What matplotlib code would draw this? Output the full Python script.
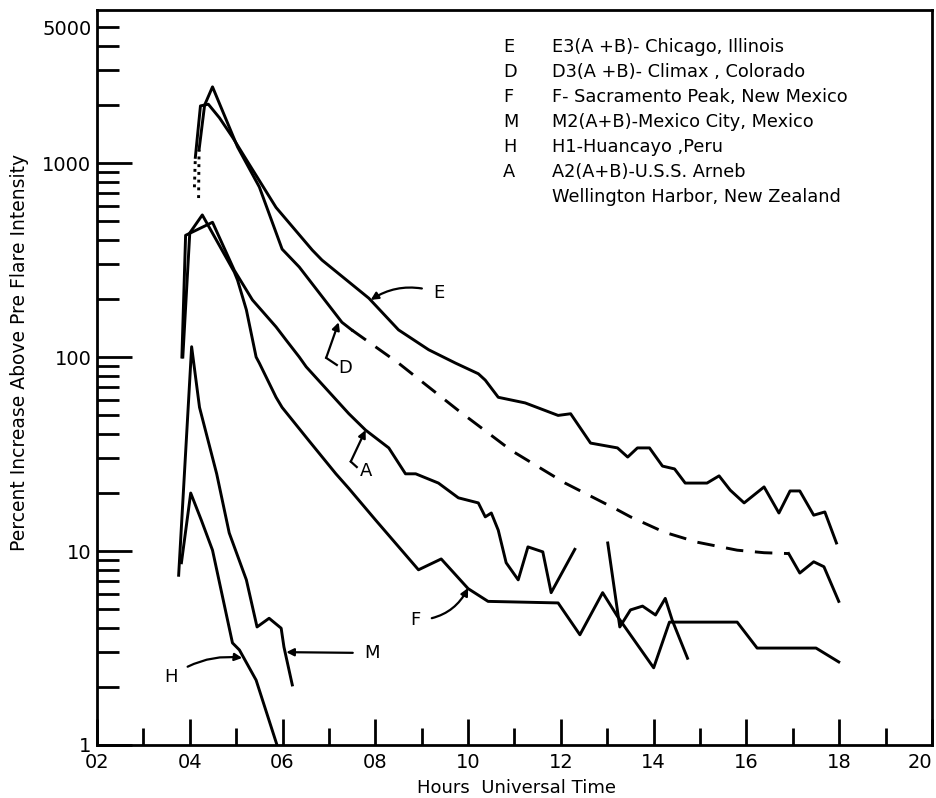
import numpy as np
import matplotlib
matplotlib.use("Agg")
import matplotlib.pyplot as plt
from matplotlib.ticker import FixedLocator, NullFormatter

# Hours UT and percent increase for each station
E_h = [4.10, 4.12, 4.23, 4.40, 4.64, 4.92, 5.22, 5.86, 6.64, 6.85, 7.86, 8.50, 9.15, 9.73,
       10.22, 10.37, 10.65, 11.23, 11.94, 12.21, 12.64, 13.22, 13.44, 13.65, 13.91, 14.19,
       14.45, 14.68, 15.15, 15.41, 15.65, 15.95, 16.38, 16.70, 16.94, 17.15, 17.45, 17.69, 17.94]
E_v = [750, 1070, 1970, 2010, 1710, 1360, 1040, 590, 356, 316, 201, 138, 109, 93,
       82, 76, 62, 58, 50, 51, 36, 34, 30.5, 34, 34, 27.4,
       26.5, 22.4, 22.4, 24.4, 20.6, 17.7, 21.4, 15.7, 20.4, 20.4, 15.3, 15.9, 11]

D_h = [4.19, 4.20, 4.32, 4.49, 5.03, 5.50, 5.99, 6.36, 7.28, 7.49, 8.50, 9.79, 10.93, 12.09,
       13.22, 13.50, 14.23, 14.94, 15.80, 16.38, 16.91, 17.15, 17.45, 17.67, 17.99]
D_v = [660, 1170, 1990, 2470, 1210, 752, 360, 291, 151, 138, 93, 53, 33, 22.4,
       16.3, 15.0, 12.5, 11.1, 10.1, 9.8, 9.7, 7.7, 8.8, 8.3, 5.5]
D_dash = (9, 20)  # estimated stretch, drawn dashed

F_h = [3.85, 4.00, 4.27, 4.96, 5.03, 5.22, 5.43, 5.50, 5.86, 5.99, 6.57, 7.15, 7.43, 8.01,
       8.93, 9.42, 10.00, 10.43, 11.94, 12.41, 12.90, 13.22, 14.00, 14.34, 15.80, 16.23,
       17.10, 17.50, 17.99]
F_v = [100, 436, 540, 274, 249, 175, 100, 93, 62, 55, 37, 25, 21, 14.4,
       8.0, 9.1, 6.4, 5.5, 5.4, 3.7, 6.1, 4.6, 2.5, 4.3, 4.3, 3.16,
       3.16, 3.16, 2.68]

A_h = [3.83, 3.91, 4.49, 4.96, 5.35, 5.86, 6.08, 6.36, 6.51, 7.43, 7.79, 8.29, 8.65, 8.87,
       9.36, 9.79, 10.22, 10.37, 10.50, 10.65, 10.82, 11.08, 11.29, 11.61, 11.79, 12.30,
       np.nan, 13.01, 13.27, 13.50, 13.76, 14.04, 14.25, 14.40, 14.73]
A_v = [100, 424, 495, 280, 197, 143, 122, 100, 89, 51, 42, 34, 25, 25,
       22.4, 18.8, 17.7, 15, 15.7, 12.8, 8.7, 7.1, 10.5, 9.9, 6.1, 10.2,
       np.nan, 11, 4.06, 4.97, 5.2, 4.68, 5.7, 4.4, 2.8]

M_h = [3.76, 4.04, 4.21, 4.58, 4.85, 5.22, 5.45, 5.71, 5.97, 6.03, 6.21]
M_v = [7.5, 113, 55, 25, 12.4, 7.1, 4.06, 4.5, 4.0, 3.2, 2.04]

H_h = [3.82, 4.02, 4.25, 4.49, 4.92, 5.07, 5.43, 5.88]
H_v = [8.7, 19.9, 14.4, 10.1, 3.36, 3.09, 2.16, 1.0]

legend_keys = ["E", "D", "F", "M", "H", "A", ""]
legend_text = ["E3(A +B)- Chicago, Illinois",
               "D3(A +B)- Climax , Colorado",
               "F- Sacramento Peak, New Mexico",
               "M2(A+B)-Mexico City, Mexico",
               "H1-Huancayo ,Peru",
               "A2(A+B)-U.S.S. Arneb",
               "Wellington Harbor, New Zealand"]

x_labels = ["02", "04", "06", "08", "10", "12", "14", "16", "18", "20"]
y_major = [1, 10, 100, 1000, 5000]

W, H = 937, 798
fig = plt.figure(figsize=(W / 100, H / 100), dpi=100)
ax = fig.add_axes([97 / W, 53 / H, 835 / W, 735 / H])

lw = 2.1
k = "black"
# E and D: dotted onset, then solid
ax.plot(E_h[:2], E_v[:2], ls=":", color=k, lw=lw)
ax.plot(E_h[1:], E_v[1:], color=k, lw=lw)
ax.plot(D_h[:2], D_v[:2], ls=":", color=k, lw=lw)
a, b = D_dash
ax.plot(D_h[1:a + 1], D_v[1:a + 1], color=k, lw=lw)
ax.plot(D_h[a:b + 1], D_v[a:b + 1], color=k, lw=lw, dashes=(6, 4))
ax.plot(D_h[b:], D_v[b:], color=k, lw=lw)
for hh, vv in [(F_h, F_v), (A_h, A_v), (M_h, M_v), (H_h, H_v)]:
    ax.plot(hh, vv, color=k, lw=lw)

ax.set_yscale("log")
ax.set_xlim(2, 20)
ax.set_ylim(1, 6150)

# axis ticks drawn inward like a hand-ruled frame
ax.xaxis.set_major_locator(FixedLocator(np.arange(2, 21, 2)))
ax.xaxis.set_minor_locator(FixedLocator(np.arange(3, 20, 2)))
ax.set_xticklabels(x_labels)
ax.get_xticklabels()[-1].set_horizontalalignment("right")
ax.yaxis.set_major_locator(FixedLocator(y_major))
ax.set_yticklabels([str(v) for v in y_major])
minors = [m * 10 ** d for d in range(0, 4) for m in range(2, 10) if m * 10 ** d < 5000]
ax.yaxis.set_minor_locator(FixedLocator(minors))
ax.yaxis.set_minor_formatter(NullFormatter())
ax.tick_params(axis="both", which="both", direction="in", width=2, colors=k, labelsize=14)
ax.tick_params(axis="x", which="major", length=19, pad=6)
ax.tick_params(axis="x", which="minor", length=12)
ax.tick_params(axis="y", which="major", length=25, pad=4)
ax.tick_params(axis="y", which="minor", length=16)
ax.yaxis.get_major_ticks()[-1].tick1line.set_markersize(16)
for s in ax.spines.values():
    s.set_linewidth(2)

fig.text(517 / W, 1 - 788 / H, "Hours  Universal Time", fontsize=13, ha="center", va="center")
fig.text(20 / W, 1 - 352 / H, "Percent Increase Above Pre Flare Intensity", fontsize=13.5,
         rotation=90, ha="center", va="center")

# curve labels
fs = 13
arrow = dict(arrowstyle="-|>", color=k, lw=1.6, mutation_scale=11, shrinkB=0)
ax.annotate("E", xy=(7.9, 197), xytext=(9.36, 214), fontsize=fs, ha="center", va="center",
            arrowprops=dict(arrow, connectionstyle="arc3,rad=0.25", shrinkA=6))
ax.text(7.36, 88, "D", fontsize=fs, ha="center", va="center")
ax.plot([7.17, 6.94], [91, 99], color=k, lw=1.6)
ax.annotate("", xy=(7.21, 151), xytext=(6.94, 99), arrowprops=dict(arrow, shrinkA=0))
ax.text(7.79, 26, "A", fontsize=fs, ha="center", va="center")
ax.plot([7.6, 7.47], [27.1, 28.9], color=k, lw=1.6)
ax.annotate("", xy=(7.79, 42), xytext=(7.47, 28.9), arrowprops=dict(arrow, shrinkA=0))
ax.annotate("F", xy=(10.0, 6.45), xytext=(8.87, 4.4), fontsize=fs, ha="center", va="center",
            arrowprops=dict(arrow, connectionstyle="arc3,rad=0.3", shrinkA=6))
ax.annotate("M", xy=(6.08, 3.01), xytext=(7.92, 2.98), fontsize=fs, ha="center", va="center",
            arrowprops=dict(arrow, shrinkA=6))
ax.annotate("H", xy=(5.13, 2.81), xytext=(3.59, 2.24), fontsize=fs, ha="center", va="center",
            arrowprops=dict(arrow, connectionstyle="arc3,rad=-0.2", shrinkA=6))

# station key
for i, (key, txt) in enumerate(zip(legend_keys, legend_text)):
    y = 1 - (47 + i * 25) / H
    fig.text(503 / W, y, key, fontsize=12.8, va="center", ha="left")
    fig.text(552 / W, y, txt, fontsize=12.8, va="center", ha="left")

fig.savefig("out.png", dpi=100)
